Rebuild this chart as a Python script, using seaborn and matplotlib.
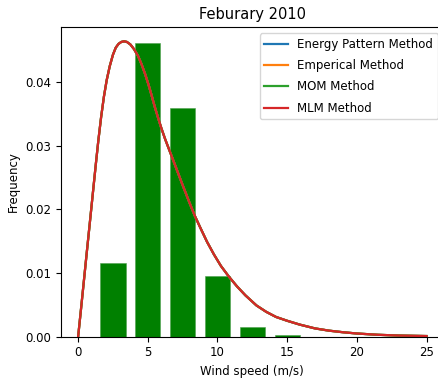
import numpy as np
import pandas as pd
import matplotlib
matplotlib.use("Agg")
import matplotlib.pyplot as plt
import seaborn as sns

# wind speed histogram (bin centres, frequency)
bin_centres = [2.5, 5.0, 7.5, 10.0, 12.5, 15.0]
bin_freq = [0.0116, 0.0461, 0.0359, 0.0096, 0.0016, 0.0003]

# fitted weibull curves (all four overlap)
speed = [0, 0.2, 0.41, 0.6, 0.84, 1.05, 1.27, 1.45, 1.65, 1.85, 2.05, 2.27,
         2.5, 2.7, 2.9, 3.1, 3.3, 3.5, 3.75, 4.0, 4.3, 4.55, 4.8, 5.05, 5.26,
         5.5, 5.75, 5.98, 6.25, 6.58, 7.0, 7.5, 8.0, 8.37, 8.75, 9.25, 9.75,
         10.25, 10.83, 11.4, 12.0, 12.8, 13.5, 14.2, 15.0, 15.9, 17.0, 18.0,
         19.0, 20.0, 21.5, 23.0, 25.0]
energy_pattern = [0, 0.0042, 0.0087, 0.0128, 0.0179, 0.0224, 0.0271, 0.0308,
                  0.0345, 0.0377, 0.0403, 0.0425, 0.0443, 0.0454, 0.0460,
                  0.0463, 0.0464, 0.0463, 0.0459, 0.0452, 0.0441, 0.0428,
                  0.0413, 0.0396, 0.0380, 0.0361, 0.0343, 0.0327, 0.0310,
                  0.0291, 0.0267, 0.0238, 0.0210, 0.0190, 0.0172, 0.0149,
                  0.0129, 0.0111, 0.0094, 0.0079, 0.0065, 0.0049, 0.0039,
                  0.0031, 0.0025, 0.0019, 0.0013, 0.00095, 0.0007, 0.0005,
                  0.0003, 0.00018, 0.0001]
emperical = list(energy_pattern)
mom = list(energy_pattern)
mlm = list(energy_pattern)

methods = ["Energy Pattern Method", "Emperical Method", "MOM Method", "MLM Method"]
curves = pd.concat([
    pd.DataFrame({"speed": speed, "freq": vals, "method": name})
    for name, vals in zip(methods, [energy_pattern, emperical, mom, mlm])
])

plt.rcParams["font.family"] = "DejaVu Sans"
plt.rcParams["axes.linewidth"] = 0.8

fig = plt.figure(figsize=(4.38, 3.84), dpi=100)
ax = fig.add_axes([0.1386, 0.1232, 0.875, 0.8057])

ax.bar(bin_centres, bin_freq, width=1.8, color="green", edgecolor="#4fa04f", linewidth=0.4)
sns.lineplot(data=curves, x="speed", y="freq", hue="method", palette=sns.color_palette("tab10", 4),
             linewidth=1.6, ax=ax, sort=False)

ax.set_xlim(-1.25, 26.25)
ax.set_ylim(0, 0.0486)
ax.set_xticks([0, 5, 10, 15, 20, 25])
ax.set_yticks([0, 0.01, 0.02, 0.03, 0.04])
ax.set_yticklabels(["0.00", "0.01", "0.02", "0.03", "0.04"])
ax.tick_params(labelsize=8.5)

ax.set_xlabel("Wind speed (m/s)", fontsize=8.5)
ax.set_ylabel("Frequency", fontsize=8.5)
ax.set_title("Feburary 2010", fontsize=10.5)

handles, labels = ax.get_legend_handles_labels()
ax.legend(handles, labels, loc="upper right", fontsize=8.5, labelspacing=0.7)

fig.savefig("out.png", dpi=100)
